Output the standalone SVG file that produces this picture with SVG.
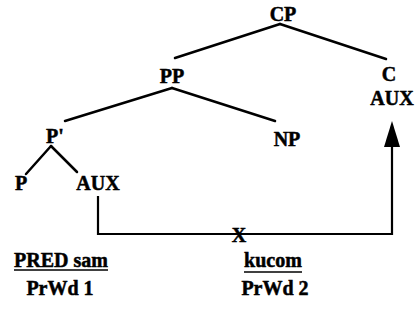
<svg xmlns="http://www.w3.org/2000/svg" width="417" height="331" viewBox="0 0 417 331">
<style>
text{font-family:"Liberation Serif","Times New Roman",serif;font-weight:bold;font-size:20px;fill:#000;stroke:#000;stroke-width:0.5;text-anchor:middle}
.e{stroke:#000;stroke-width:2.5;fill:none;stroke-linecap:round}
.c{stroke:#000;stroke-width:2.2;fill:none}
.u{stroke:#000;stroke-width:1.6}
</style>
<rect width="417" height="331" fill="#fff"/>
<g id="edges">
<line class="e" x1="280" y1="24" x2="175" y2="58"/>
<line class="e" x1="280" y1="24" x2="386" y2="59"/>
<line class="e" x1="172" y1="88" x2="65" y2="121"/>
<line class="e" x1="172" y1="88" x2="275" y2="121"/>
<line class="e" x1="51" y1="146" x2="26" y2="174"/>
<line class="e" x1="51" y1="146" x2="77" y2="172"/>
</g>
<g id="CP"><text x="283" y="21">CP</text></g>
<g id="PP"><text x="172" y="83">PP</text></g>
<g id="C"><text x="389" y="81">C</text><text x="392" y="105">AUX</text></g>
<g id="Pbar"><text x="55" y="143">P'</text></g>
<g id="NP"><text x="287" y="146">NP</text></g>
<g id="P"><text x="21" y="190">P</text></g>
<g id="AUX"><text x="98" y="190">AUX</text></g>
<g id="connectors">
<polyline class="c" points="98,196 98,234 392,234 392,145"/>
<path d="M392,121 L400,147 L384,147 Z" fill="#000"/>
<text x="239" y="242">X</text>
</g>
<g id="PrWd1">
<text x="61" y="267">PRED sam</text>
<line class="u" x1="14" y1="270" x2="108" y2="270"/>
<text x="60" y="295">PrWd 1</text>
</g>
<g id="PrWd2">
<text x="273" y="267">kucom</text>
<line class="u" x1="244" y1="272" x2="302" y2="272"/>
<text x="275" y="295">PrWd 2</text>
</g>
</svg>
